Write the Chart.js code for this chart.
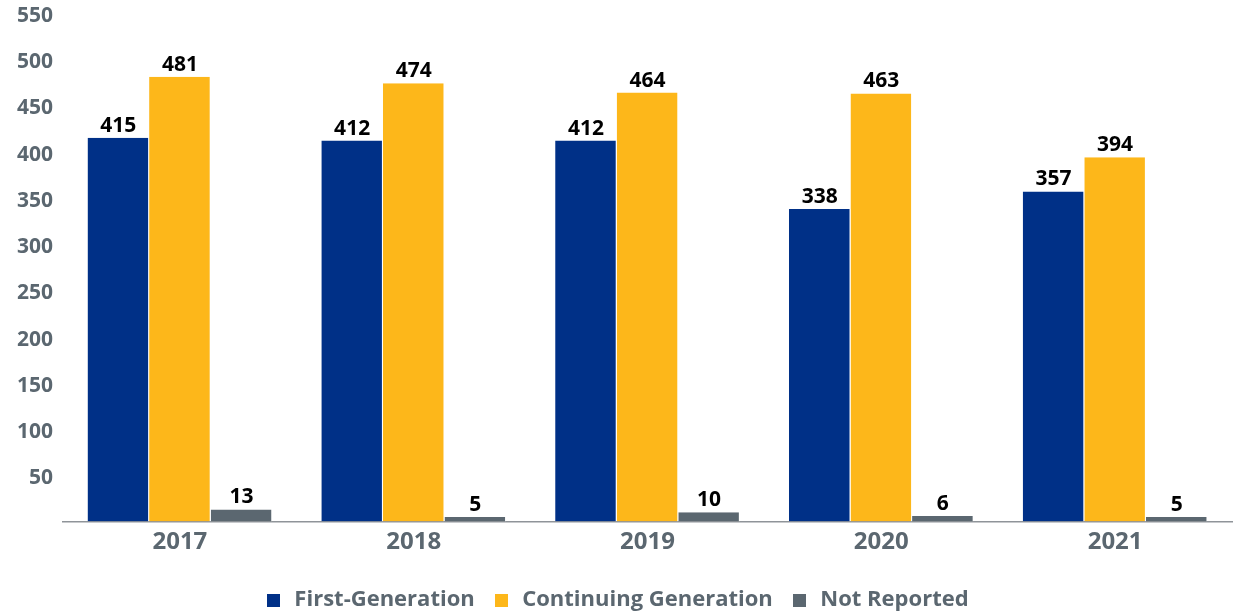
<!DOCTYPE html>
<html>
<head>
<meta charset="utf-8">
<script src="https://cdn.jsdelivr.net/npm/chart.js@4/dist/chart.umd.min.js"></script>
<style>
  html, body { margin: 0; padding: 0; background: #fff; }
  #wrap { width: 1235px; height: 614px; position: relative; }
</style>
</head>
<body>
<div id="wrap"><canvas id="chart"></canvas></div>
<script>
// Students by generation status, 2017-2021
const years = ["2017", "2018", "2019", "2020", "2021"];
const firstGen = [415, 412, 412, 338, 357];
const continuingGen = [481, 474, 464, 463, 394];
const notReported = [13, 5, 10, 6, 5];
const yTicks = [50, 100, 150, 200, 250, 300, 350, 400, 450, 500, 550];

const FONT = "'Open Sans', 'DejaVu Sans', sans-serif";
const GREY = "#5b6770";
const COLORS = ["#003087", "#fdb71a", GREY];

// small square swatch for the legend
function swatch(color) {
  const c = document.createElement("canvas");
  c.width = 13;
  c.height = 13;
  const g = c.getContext("2d");
  g.fillStyle = color;
  g.fillRect(0, 0, 13, 13);
  return c;
}

// value labels above each bar
const barLabels = {
  id: "barLabels",
  afterDatasetsDraw(chart) {
    const ctx = chart.ctx;
    ctx.save();
    ctx.font = "bold 21px " + FONT;
    ctx.fillStyle = "#000";
    ctx.textAlign = "center";
    ctx.textBaseline = "alphabetic";
    chart.data.datasets.forEach((ds, i) => {
      chart.getDatasetMeta(i).data.forEach((bar, j) => {
        ctx.fillText(ds.data[j], bar.x, bar.y - 6);
      });
    });
    ctx.restore();
  },
};

function dataset(label, data, color) {
  return {
    label,
    data,
    backgroundColor: color,
    borderColor: "#ffffff",
    borderWidth: { left: 0, right: 1, top: 0, bottom: 0 },
    borderSkipped: false,
  };
}

new Chart(document.getElementById("chart"), {
  type: "bar",
  data: {
    labels: years,
    datasets: [
      dataset("First-Generation", firstGen, COLORS[0]),
      dataset("Continuing Generation", continuingGen, COLORS[1]),
      dataset("Not Reported", notReported, COLORS[2]),
    ],
  },
  options: {
    responsive: true,
    maintainAspectRatio: false,
    animation: false,
    layout: { padding: { top: 13, right: 3, left: 0, bottom: -7 } },
    datasets: { bar: { categoryPercentage: 0.79, barPercentage: 1.0 } },
    plugins: {
      legend: {
        position: "bottom",
        labels: {
          color: GREY,
          font: { family: FONT, size: 22, weight: "bold" },
          usePointStyle: true,
          pointStyleWidth: 20,
          boxHeight: 13,
          padding: 16.5,
          generateLabels(chart) {
            const items = Chart.defaults.plugins.legend.labels.generateLabels(chart);
            items.forEach((it, i) => { it.pointStyle = swatch(COLORS[i]); });
            return items;
          },
        },
      },
      tooltip: { enabled: false },
    },
    scales: {
      x: {
        grid: { display: false, drawTicks: false },
        border: { display: true, color: "#8f9499", width: 1.5 },
        ticks: {
          color: GREY,
          font: { family: FONT, size: 24, weight: "bold" },
          padding: 6,
        },
        afterFit(s) { s.height = 51; },
      },
      y: {
        min: 0,
        max: 550,
        grid: { display: false, drawTicks: false },
        border: { display: false },
        afterBuildTicks(s) { s.ticks = yTicks.map((v) => ({ value: v })); },
        ticks: {
          color: GREY,
          font: { family: FONT, size: 21, weight: "bold" },
          padding: 10,
          labelOffset: 3,
        },
        afterFit(s) {
          s.width = 63;
          s.paddingTop = 0;
          s.paddingBottom = 0;
        },
      },
    },
  },
  plugins: [barLabels],
});
</script>
</body>
</html>
